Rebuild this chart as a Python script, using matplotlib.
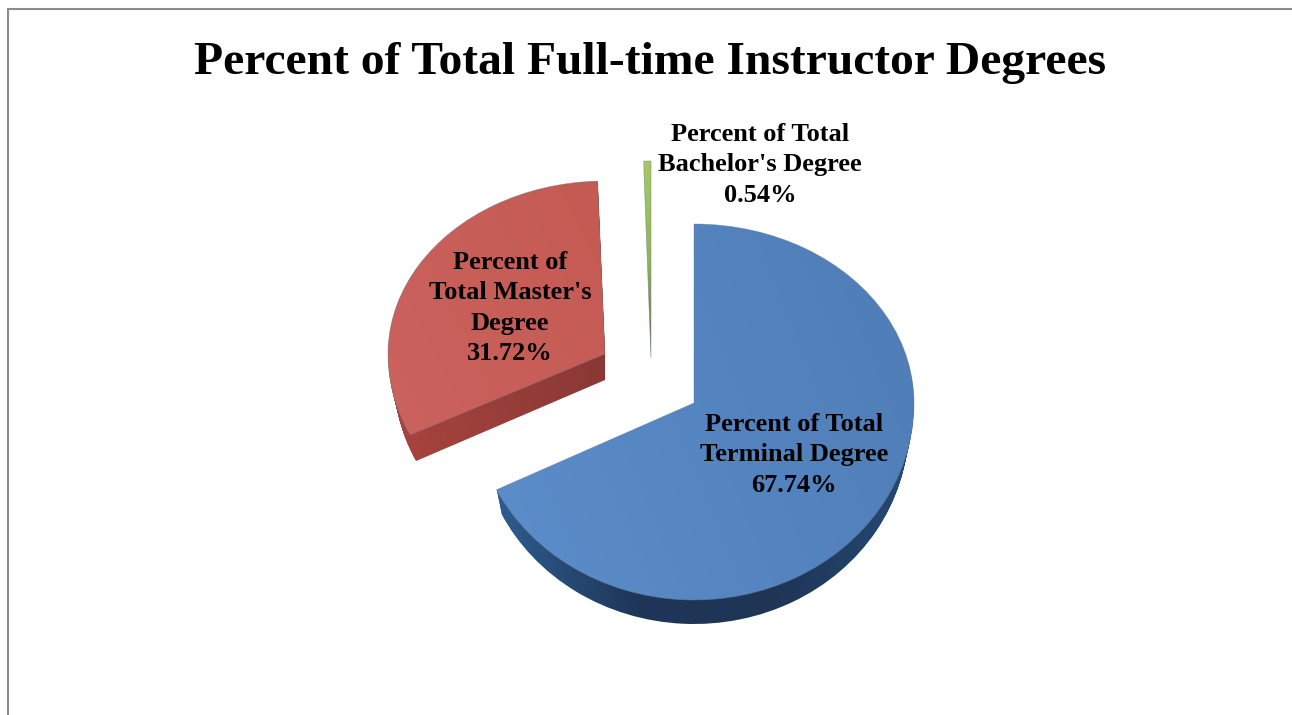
import numpy as np
import matplotlib
matplotlib.use('Agg')
import matplotlib.pyplot as plt
from matplotlib.colors import to_rgb
from matplotlib.patches import PathPatch
from matplotlib.path import Path

title = 'Percent of Total Full-time Instructor Degrees'
values = [67.74, 31.72, 0.54]
labels = ['Percent of Total\nTerminal Degree\n67.74%',
          "Percent of\nTotal Master's\nDegree\n31.72%",
          "Percent of Total\nBachelor's Degree\n0.54%"]
label_pos = [(794, 455), (510, 308), (760, 165)]

# pixel layout of each exploded slice: centre x, centre y, rx, ry above, ry below, depth, shrink of the base
layout = [(694, 403, 220, 179, 197, 24, 0.975),
          (605, 354, 217, 173, 184, 26, 0.97),
          (651, 358, 220, 197, 197, 0, 1.0)]
top_colors = [['#5c8ecb', '#4e7cb6'], ['#cb625e', '#c45a52'], ['#a6c964', '#94b456', '#5f6f4f']]
side_colors = [['#2e5c8f', '#1f3658', '#1e3555', '#254a75'], ['#a8443f', '#8a3834'], None]
top_angle = [-20, -30, 90]

plt.rcParams['font.family'] = ['Liberation Serif', 'DejaVu Serif']

fig = plt.figure(figsize=(12.92, 7.15), dpi=100)
ax = fig.add_axes([0, 0, 1, 1])


def warp(path, cx, cy, rx, ry_up, ry_down, shift=0):
    # squash the flat pie into its tilted look, back half flatter than the front
    v = path.vertices
    x = cx + v[:, 0] * rx
    y = cy + shift - v[:, 1] * np.where(v[:, 1] > 0, ry_up, ry_down)
    return Path(np.column_stack([x, y]), path.codes)


def shade(path, colors, angle):
    # gradient image clipped to the shape
    (x0, y0), (x1, y1) = path.get_extents().get_points()
    xx, yy = np.meshgrid(np.linspace(0, 1, 200), np.linspace(0, 1, 200))
    a = np.radians(angle)
    t = xx * np.cos(a) + yy * np.sin(a)
    t = (t - t.min()) / (t.max() - t.min())
    stops = np.linspace(0, 1, len(colors))
    rgb = np.array([to_rgb(c) for c in colors])
    img = np.dstack([np.interp(t, stops, rgb[:, i]) for i in range(3)])
    im = ax.imshow(img, extent=(x0, x1, y1, y0), aspect='auto', interpolation='bilinear', zorder=2)
    im.set_clip_path(PathPatch(path, transform=ax.transData))
    return im


wedges, _ = ax.pie(values, startangle=90, counterclock=False, radius=1)
ax.set_aspect('auto')

for wedge, lay, tc, sc, ang in zip(wedges, layout, top_colors, side_colors, top_angle):
    wedge.set_visible(False)
    cx, cy, rx, ry_up, ry_down, depth, shrink = lay
    flat = wedge.get_path()
    if sc is not None:
        # side wall: the same slice swept down by the depth, slightly smaller at the base
        for step in range(depth, 0, -1):
            k = 1 - (1 - shrink) * step / depth
            low = warp(flat, cx, cy, rx * k, ry_up, ry_down, shift=step)
            shade(low, sc, 0)
    top = warp(flat, cx, cy, rx, ry_up, ry_down)
    shade(top, tc, ang)
    ax.add_patch(PathPatch(top, fc='none', ec='#6b7a8c', lw=0.5, alpha=0.6, zorder=3))

ax.plot([8, 8, 1292], [715, 9, 9], color='#8c8c8c', lw=1.5, zorder=1, solid_joinstyle='miter')

ax.text(650, 63, title, ha='center', va='center', fontsize=34.2, fontweight='bold', color='black', zorder=5)
for lab, (lx, ly) in zip(labels, label_pos):
    ax.text(lx, ly, lab, ha='center', va='center', fontsize=19, fontweight='bold',
            linespacing=1.42, color='black', zorder=5)

ax.set_xlim(0, 1292)
ax.set_ylim(715, 0)
ax.axis('off')
fig.savefig('out.png', dpi=100, facecolor='white')
